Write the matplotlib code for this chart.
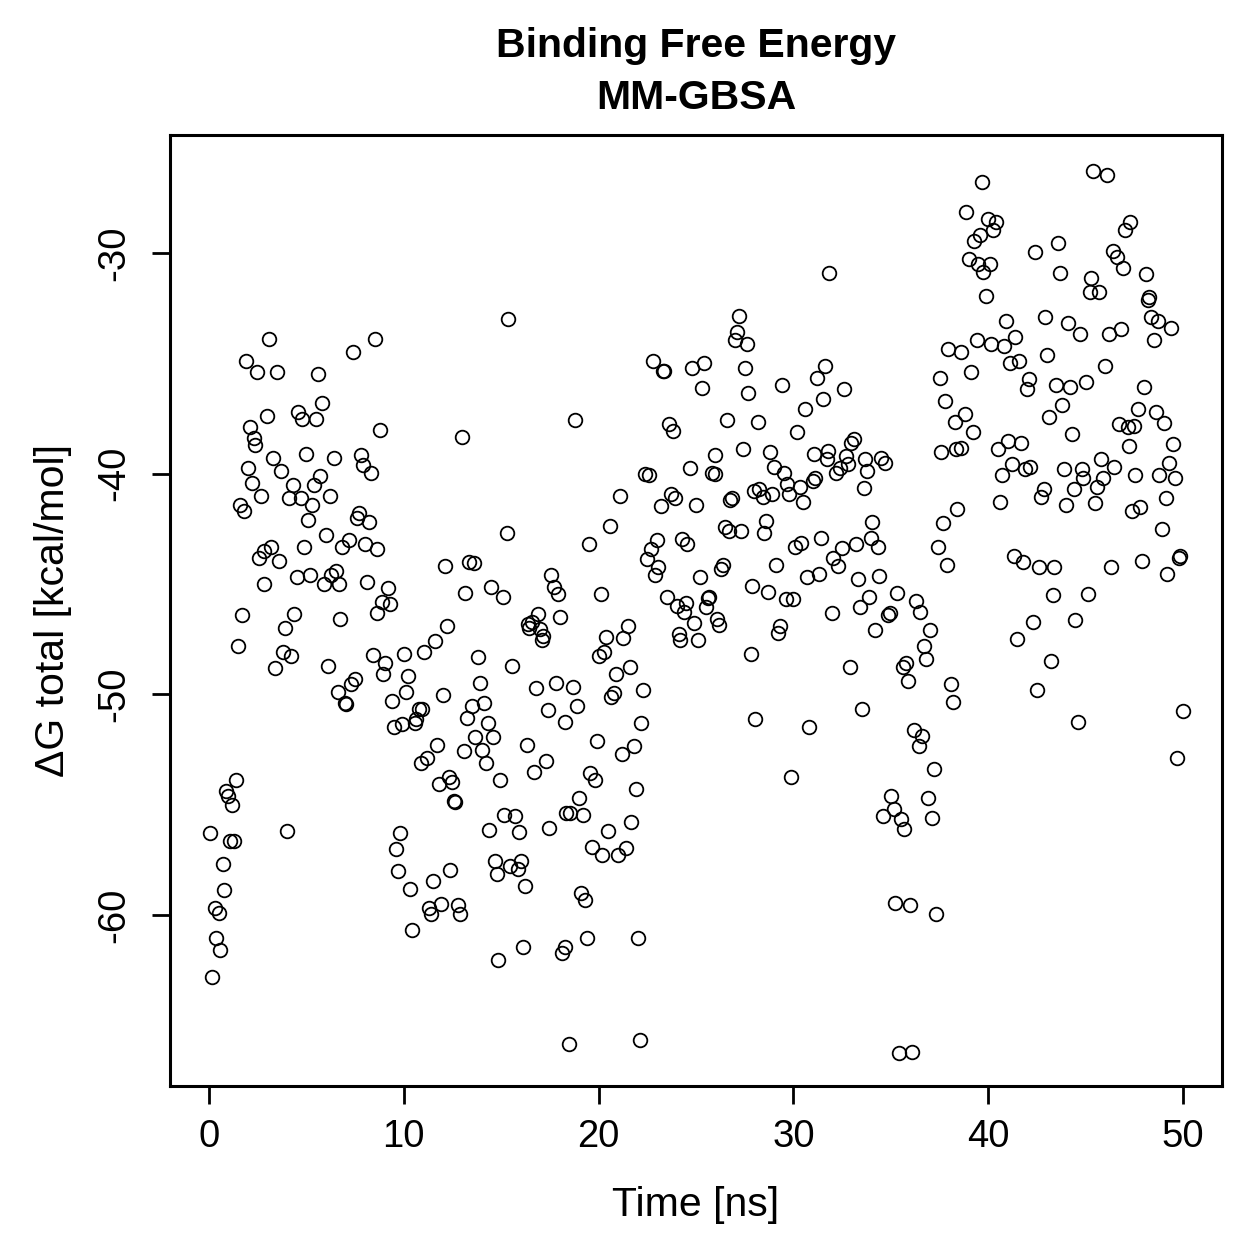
import matplotlib
matplotlib.use("Agg")
import matplotlib.pyplot as plt

plt.rcParams['font.family'] = ['Liberation Sans', 'DejaVu Sans']

time_ns = [
0.05,0.15,0.3,0.35,0.5,0.55,0.7,0.75,0.85,1.0,1.1,1.2,1.3,1.4,1.5,1.6,1.7,1.8,1.9,2.0,
2.1,2.2,2.3,2.35,2.45,2.55,2.65,2.8,2.85,3.0,3.1,3.2,3.3,3.4,3.5,3.6,3.7,3.8,3.9,4.0,
4.1,4.2,4.3,4.35,4.5,4.55,4.7,4.75,4.9,5.0,5.1,5.2,5.3,5.4,5.5,5.6,5.7,5.8,5.9,6.0,
6.1,6.2,6.25,6.4,6.5,6.6,6.65,6.75,6.85,7.0,7.05,7.2,7.3,7.4,7.5,7.6,7.7,7.8,7.9,8.0,
8.1,8.2,8.3,8.4,8.5,8.6,8.65,8.8,8.9,8.95,9.05,9.2,9.3,9.4,9.5,9.6,9.7,9.8,9.9,10.0,
10.1,10.2,10.3,10.4,10.6,10.65,10.8,10.9,10.95,11.05,11.2,11.3,11.4,11.5,11.6,11.7,11.8,11.9,12.0,12.1,
12.2,12.3,12.35,12.5,12.6,12.65,12.8,12.9,13.0,13.1,13.15,13.25,13.35,13.5,13.6,13.65,13.8,13.9,14.0,14.1,
14.2,14.3,14.4,14.5,14.6,14.7,14.8,14.85,14.95,15.1,15.15,15.3,15.35,15.45,15.55,15.7,15.85,15.9,16.0,16.1,
16.2,16.3,16.4,16.45,16.6,16.7,16.8,16.9,17.0,17.1,17.15,17.3,17.4,17.45,17.55,17.7,17.8,17.9,18.0,18.1,
18.25,18.3,18.35,18.5,18.55,18.7,18.8,18.9,19.0,19.1,19.2,19.3,19.4,19.5,19.55,19.65,19.8,19.9,20.0,20.1,
20.2,20.3,20.4,20.5,20.6,20.65,20.8,20.9,21.0,21.1,21.2,21.25,21.4,21.5,21.6,21.65,21.8,21.9,22.0,22.1,
22.2,22.3,22.4,22.5,22.6,22.7,22.8,22.9,23.0,23.05,23.2,23.3,23.35,23.5,23.6,23.7,23.8,23.9,24.0,24.15,
24.2,24.3,24.4,24.5,24.55,24.7,24.8,24.9,25.0,25.1,25.2,25.3,25.4,25.5,25.6,25.65,25.8,25.95,26.0,26.1,
26.2,26.3,26.4,26.5,26.6,26.7,26.75,26.85,27.0,27.1,27.2,27.3,27.4,27.5,27.6,27.65,27.8,27.9,28.0,28.05,
28.2,28.25,28.45,28.5,28.6,28.7,28.8,28.9,29.0,29.1,29.2,29.3,29.4,29.5,29.6,29.65,29.75,29.9,30.0,30.1,
30.2,30.35,30.4,30.5,30.6,30.7,30.8,31.0,31.05,31.1,31.2,31.3,31.4,31.5,31.6,31.7,31.8,31.85,32.0,32.05,
32.2,32.3,32.4,32.5,32.6,32.7,32.8,32.9,32.95,33.1,33.2,33.3,33.4,33.5,33.6,33.7,33.8,33.9,34.0,34.05,
34.2,34.35,34.4,34.5,34.6,34.7,34.85,34.95,35.0,35.15,35.2,35.3,35.4,35.5,35.6,35.7,35.8,35.9,36.0,36.1,
36.2,36.3,36.45,36.5,36.6,36.7,36.8,36.9,37.0,37.1,37.2,37.3,37.4,37.5,37.6,37.7,37.8,37.9,37.95,38.1,
38.2,38.3,38.35,38.4,38.6,38.6,38.85,38.8,39.0,39.1,39.2,39.25,39.4,39.5,39.6,39.7,39.75,39.9,40.0,40.1,
40.15,40.25,40.4,40.5,40.6,40.7,40.8,40.9,41.0,41.1,41.2,41.3,41.4,41.5,41.6,41.7,41.8,41.9,42.0,42.1,
42.15,42.3,42.4,42.5,42.6,42.7,42.85,42.9,43.0,43.1,43.2,43.3,43.4,43.5,43.6,43.7,43.8,43.9,44.0,44.1,
44.2,44.3,44.4,44.45,44.6,44.7,44.8,44.85,45.0,45.1,45.2,45.3,45.4,45.5,45.6,45.7,45.8,45.9,46.0,46.1,
46.2,46.3,46.4,46.45,46.6,46.7,46.8,46.9,47.0,47.15,47.25,47.3,47.4,47.5,47.55,47.7,47.8,47.9,48.0,48.1,
48.2,48.25,48.35,48.5,48.6,48.7,48.75,48.9,49.0,49.1,49.2,49.3,49.4,49.5,49.6,49.7,49.8,49.85,50.0,
]

delta_g = [
-56.3,-62.8,-59.7,-61.05,-59.9,-61.6,-57.7,-58.85,-54.4,-54.6,-56.65,-55.0,-56.65,-53.9,-47.8,-41.4,-46.4,-41.7,-34.9,-39.75,
-37.9,-40.4,-38.4,-38.7,-35.4,-43.8,-41.0,-43.5,-45.0,-37.4,-33.9,-43.3,-39.3,-48.8,-35.4,-43.95,-39.9,-48.1,-47.0,-56.2,
-41.1,-48.25,-40.5,-46.35,-44.7,-37.2,-41.1,-37.5,-43.3,-39.1,-42.1,-44.6,-41.4,-40.5,-37.5,-35.5,-40.1,-36.8,-45.0,-42.8,
-48.7,-41.0,-44.6,-39.3,-44.4,-49.9,-45.0,-46.6,-43.3,-50.4,-50.45,-43.0,-49.55,-34.5,-49.3,-42.0,-41.8,-39.15,-39.6,-43.2,
-44.9,-42.2,-39.95,-48.2,-33.9,-43.4,-46.3,-38.0,-45.8,-49.1,-48.6,-45.2,-45.9,-50.3,-51.5,-57.0,-58.0,-56.3,-51.35,-48.15,
-49.9,-49.15,-58.8,-60.7,-51.3,-51.1,-50.65,-53.1,-50.65,-48.1,-52.9,-59.7,-59.95,-58.45,-47.6,-52.3,-54.05,-59.5,-50.05,-44.2,
-46.9,-53.75,-57.95,-53.95,-54.85,-54.9,-59.55,-59.95,-38.35,-52.55,-45.4,-51.05,-44.0,-50.55,-44.05,-51.95,-48.3,-49.5,-52.5,-50.4,
-53.1,-51.3,-56.15,-45.15,-51.95,-57.55,-58.15,-62.05,-53.9,-45.6,-55.45,-42.7,-33.0,-57.8,-48.7,-55.5,-57.9,-56.25,-57.55,-61.45,
-58.7,-52.3,-46.8,-47.0,-46.7,-53.5,-49.7,-46.35,-47.05,-47.55,-47.35,-53.0,-50.7,-56.05,-44.6,-45.15,-49.5,-45.45,-46.5,-61.7,
-61.45,-51.25,-55.4,-65.85,-55.4,-49.65,-37.55,-50.55,-54.7,-59.0,-55.45,-59.3,-61.05,-43.2,-53.55,-56.9,-53.9,-52.1,-48.25,-45.45,
-57.3,-48.1,-47.4,-56.2,-42.35,-50.1,-49.95,-49.1,-57.3,-41.0,-52.7,-47.45,-56.95,-46.9,-48.75,-55.8,-52.35,-54.3,-61.05,-65.65,
-51.3,-49.8,-40.0,-43.85,-40.05,-43.4,-34.9,-44.6,-43.0,-44.25,-41.45,-35.35,-35.35,-45.6,-37.75,-40.9,-38.05,-41.1,-46.0,-47.25,
-47.55,-42.95,-46.25,-45.85,-43.2,-39.75,-35.2,-46.75,-41.4,-47.55,-44.7,-36.1,-35.0,-46.05,-45.65,-45.6,-39.95,-40.0,-39.15,-46.6,
-46.85,-44.3,-44.15,-42.4,-37.55,-42.6,-41.2,-41.1,-33.95,-33.6,-32.85,-42.6,-38.9,-35.2,-34.1,-36.35,-48.15,-45.1,-40.8,-51.1,
-37.65,-40.7,-41.05,-42.7,-42.15,-45.35,-39.0,-40.9,-39.7,-44.15,-47.2,-46.9,-36.0,-39.95,-45.7,-40.45,-40.9,-53.75,-45.7,-43.3,
-38.1,-40.6,-43.15,-41.3,-37.05,-44.7,-51.5,-40.35,-39.1,-40.2,-35.65,-44.55,-42.9,-36.6,-35.1,-39.35,-38.95,-30.9,-46.3,-43.8,
-39.95,-44.2,-39.75,-43.35,-36.15,-39.2,-39.55,-48.75,-38.6,-38.45,-43.2,-44.75,-46.05,-50.65,-40.65,-39.35,-39.9,-45.6,-42.9,-42.2,
-47.1,-43.3,-44.65,-39.3,-55.5,-39.5,-46.4,-46.3,-54.6,-55.2,-59.45,-45.4,-66.25,-55.65,-48.75,-56.1,-48.6,-49.4,-59.55,-66.2,
-51.6,-45.75,-52.35,-46.25,-51.9,-47.8,-48.4,-54.7,-47.1,-55.6,-53.4,-59.95,-43.3,-35.65,-39.0,-42.25,-36.7,-44.15,-34.35,-49.55,
-50.35,-37.65,-38.9,-41.6,-38.85,-34.5,-28.15,-37.3,-30.25,-35.4,-38.1,-29.45,-33.95,-30.5,-29.2,-26.8,-30.85,-31.95,-28.45,-30.5,
-34.1,-28.95,-28.6,-38.9,-41.3,-40.05,-34.2,-33.1,-38.5,-35.0,-39.55,-43.75,-33.8,-47.5,-34.9,-38.6,-44.0,-39.8,-36.15,-35.7,
-39.7,-46.7,-29.95,-49.8,-44.25,-41.05,-40.7,-32.9,-34.6,-37.45,-48.5,-45.5,-44.25,-36.0,-29.55,-30.9,-36.9,-39.8,-41.4,-33.15,
-36.05,-38.2,-40.7,-46.65,-51.25,-33.65,-39.8,-40.2,-35.85,-45.45,-31.75,-31.15,-26.3,-41.35,-40.6,-31.75,-39.35,-40.2,-35.1,-26.45,
-33.65,-44.25,-29.9,-39.7,-30.2,-37.75,-33.45,-30.7,-28.95,-37.9,-38.75,-28.6,-41.7,-37.85,-40.05,-37.05,-41.5,-43.95,-36.05,-30.95,
-32.15,-32.0,-32.9,-33.95,-37.2,-33.1,-40.05,-42.5,-37.7,-41.1,-44.55,-39.5,-33.4,-38.65,-40.2,-52.9,-43.8,-43.75,-50.75,
]

x_ticks = [0, 10, 20, 30, 40, 50]
y_ticks = [-60, -50, -40, -30]

fig = plt.figure(figsize=(12.59, 12.59), dpi=100)
ax = fig.add_axes([170/1259, 1 - 1086/1259, (1222-170)/1259, (1086-135)/1259])

ax.plot(time_ns, delta_g, linestyle='none', marker='o', ms=9.8,
        mfc='none', mec='black', mew=1.3)

ax.set_xlim(-2, 52)
ax.set_ylim(-67.75, -24.65)
ax.set_xticks(x_ticks)
ax.set_yticks(y_ticks)
ax.set_yticklabels([str(v) for v in y_ticks], rotation=90, va='center')
ax.tick_params(axis='both', direction='out', length=13, width=2.0,
               labelsize=27.5, pad=11, colors='black')
ax.tick_params(axis='y', pad=14)
for sp in ax.spines.values():
    sp.set_linewidth(2.2)

ax.set_xlabel('Time [ns]', fontsize=29.5, labelpad=22)
ax.set_ylabel('ΔG total [kcal/mol]', fontsize=29.5, labelpad=18)
ax.set_title('Binding Free Energy\nMM-GBSA', fontsize=29.5, fontweight='bold',
             pad=19, linespacing=1.44)

fig.savefig('out.png', dpi=100, facecolor='white')
